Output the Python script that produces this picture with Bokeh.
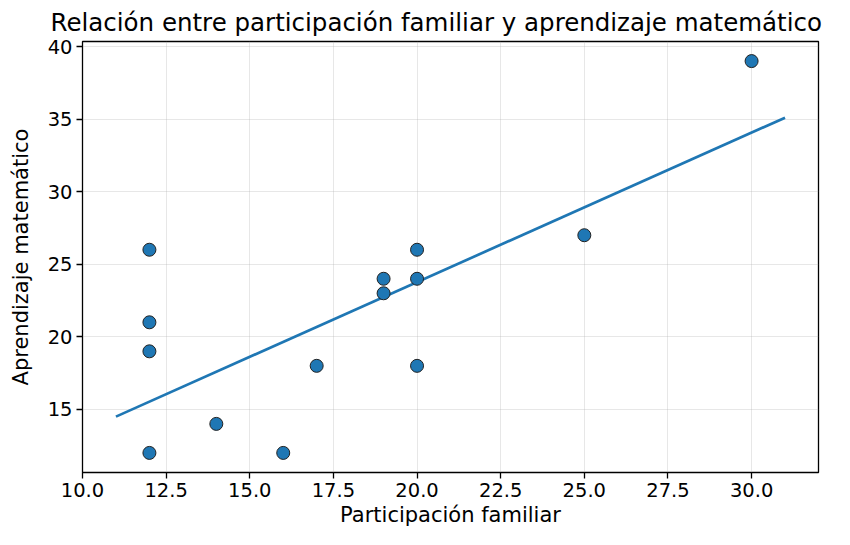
from bokeh.plotting import figure
from bokeh.models import FixedTicker, Range1d
from bokeh.embed import file_html
from bokeh.resources import INLINE

# Data
participacion = [12, 12, 12, 12, 14, 16, 17, 19, 19, 20, 20, 20, 25, 30]
aprendizaje = [26, 21, 19, 12, 14, 12, 18, 24, 23, 26, 24, 18, 27, 39]
fit_x = [11, 31]
fit_y = [14.5, 35.1]
x_ticks = [10.0, 12.5, 15.0, 17.5, 20.0, 22.5, 25.0, 27.5, 30.0]
y_ticks = [15, 20, 25, 30, 35, 40]

FONT = "DejaVu Sans"

p = figure(width=834, height=529, output_backend="svg", toolbar_location=None,
           x_range=Range1d(10, 32), y_range=Range1d(10.65, 40.35),
           min_border_left=82, min_border_right=16, min_border_top=20, min_border_bottom=40)

p.title.text = "Relación entre participación familiar y aprendizaje matemático"
p.title.align = "left"
p.title.offset = -32
p.title.text_font = FONT
p.title.text_font_size = "24.5px"
p.title.text_font_style = "normal"
p.title.text_color = "#000000"

p.outline_line_color = "#000000"
p.outline_line_width = 1.3

for ax in (p.xaxis[0], p.yaxis[0]):
    ax.axis_line_color = None
    ax.major_tick_in = 0
    ax.major_tick_out = 6
    ax.major_tick_line_width = 1.3
    ax.minor_tick_line_color = None
    ax.major_label_text_font = FONT
    ax.major_label_text_font_size = "19.5px"
    ax.major_label_text_color = "#000000"
    ax.major_label_standoff = 4
    ax.axis_label_text_font = FONT
    ax.axis_label_text_font_size = "21px"
    ax.axis_label_text_font_style = "normal"
    ax.axis_label_text_color = "#000000"

p.xaxis.ticker = FixedTicker(ticks=x_ticks)
p.yaxis.ticker = FixedTicker(ticks=y_ticks)
p.xaxis.major_label_overrides = {t: f"{t:.1f}" for t in x_ticks}
p.xaxis.axis_label = "Participación familiar"
p.yaxis.axis_label = "Aprendizaje matemático"
p.xaxis.axis_label_standoff = 3
p.yaxis.axis_label_standoff = 12

p.xgrid.ticker = FixedTicker(ticks=x_ticks)
p.ygrid.ticker = FixedTicker(ticks=y_ticks)
p.grid.grid_line_color = "#b0b0b0"
p.grid.grid_line_alpha = 0.3
p.grid.grid_line_width = 1

p.line(fit_x, fit_y, line_color="#1f77b4", line_width=2.7)
p.scatter(participacion, aprendizaje, size=13, fill_color="#1f77b4",
          line_color="#222222", line_width=1)

open("out.html", "w").write(file_html(p, INLINE))
